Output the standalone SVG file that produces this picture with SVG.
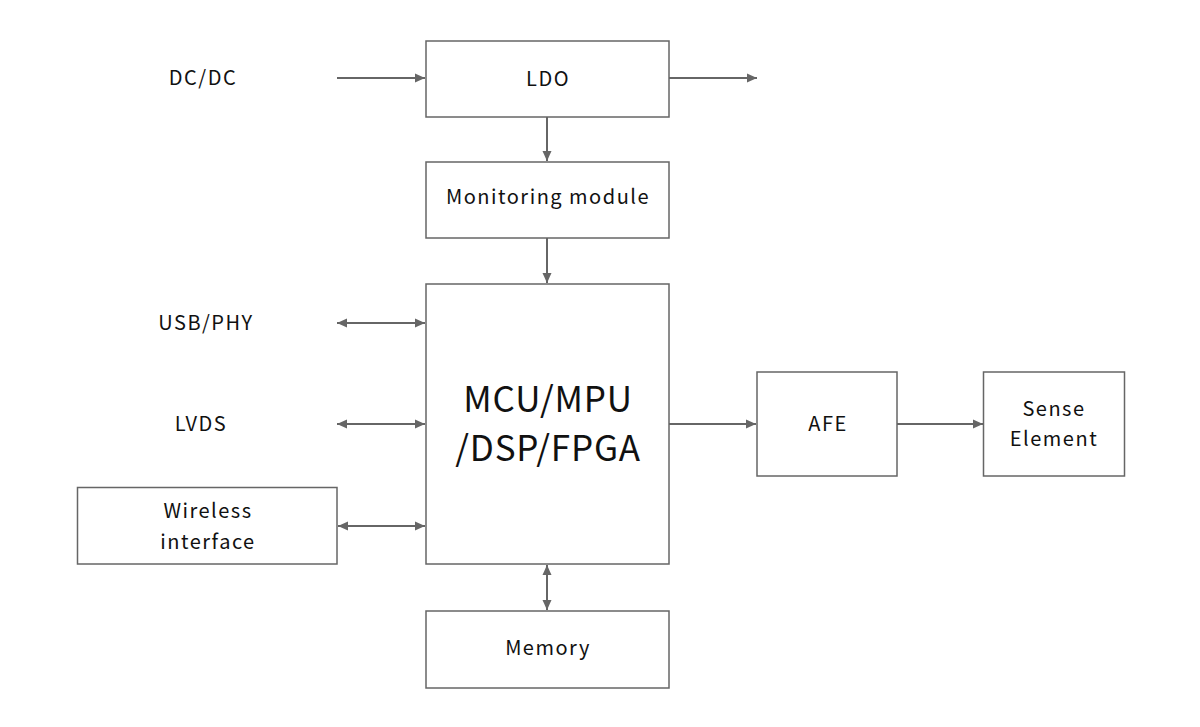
<svg xmlns="http://www.w3.org/2000/svg" width="1200" height="727" viewBox="0 0 1200 727">
<defs>
<style>
.box{fill:#fff;stroke:#666;stroke-width:1.5}
.ln{stroke:#666;stroke-width:2;fill:none}
text{font-family:"Noto Sans CJK SC","Noto Sans",sans-serif;font-size:20px;letter-spacing:1.5px;fill:#111;text-anchor:middle;dominant-baseline:central}
.big{font-size:35px;letter-spacing:0.8px}
</style>
<marker id="ah" viewBox="0 0 10 10" refX="10" refY="5" markerWidth="10" markerHeight="10" markerUnits="userSpaceOnUse" orient="auto-start-reverse">
<path d="M0,0.5 L10,5 L0,9.5 Z" fill="#666"/>
</marker>
</defs>
<rect width="1200" height="727" fill="#fff"/>
<g id="connectors">
<line class="ln" x1="337" y1="78" x2="425" y2="78" marker-end="url(#ah)"/>
<line class="ln" x1="669" y1="78" x2="757" y2="78" marker-end="url(#ah)"/>
<line class="ln" x1="547" y1="117" x2="547" y2="161" marker-end="url(#ah)"/>
<line class="ln" x1="547" y1="238" x2="547" y2="283" marker-end="url(#ah)"/>
<line class="ln" x1="337" y1="323" x2="425" y2="323" marker-start="url(#ah)" marker-end="url(#ah)"/>
<line class="ln" x1="337" y1="424" x2="425" y2="424" marker-start="url(#ah)" marker-end="url(#ah)"/>
<line class="ln" x1="338" y1="526" x2="425" y2="526" marker-start="url(#ah)" marker-end="url(#ah)"/>
<line class="ln" x1="669" y1="424" x2="756" y2="424" marker-end="url(#ah)"/>
<line class="ln" x1="897" y1="424" x2="983" y2="424" marker-end="url(#ah)"/>
<line class="ln" x1="547" y1="565" x2="547" y2="610" marker-start="url(#ah)" marker-end="url(#ah)"/>
</g>
<g id="dcdc"><text x="203" y="76">DC/DC</text></g>
<g id="usbphy"><text x="206" y="321">USB/PHY</text></g>
<g id="lvds"><text x="201" y="422">LVDS</text></g>
<g id="ldo"><rect class="box" x="426" y="41" width="243" height="76"/><text x="548" y="77">LDO</text></g>
<g id="monitoring"><rect class="box" x="426" y="162" width="243" height="76"/><text x="548" y="195">Monitoring module</text></g>
<g id="mcu"><rect class="box" x="426" y="284" width="243" height="280"/><text class="big" x="548" y="396">MCU/MPU</text><text class="big" x="548" y="445">/DSP/FPGA</text></g>
<g id="wireless"><rect class="box" x="77.5" y="487.5" width="259.5" height="76.5"/><text x="208" y="509">Wireless</text><text x="208" y="540">interface</text></g>
<g id="memory"><rect class="box" x="426" y="611" width="243" height="77"/><text x="548" y="646">Memory</text></g>
<g id="afe"><rect class="box" x="757" y="372" width="140" height="104"/><text x="828" y="422">AFE</text></g>
<g id="sense"><rect class="box" x="983.5" y="372" width="141" height="104"/><text x="1054" y="407">Sense</text><text x="1054" y="437">Element</text></g>
</svg>
